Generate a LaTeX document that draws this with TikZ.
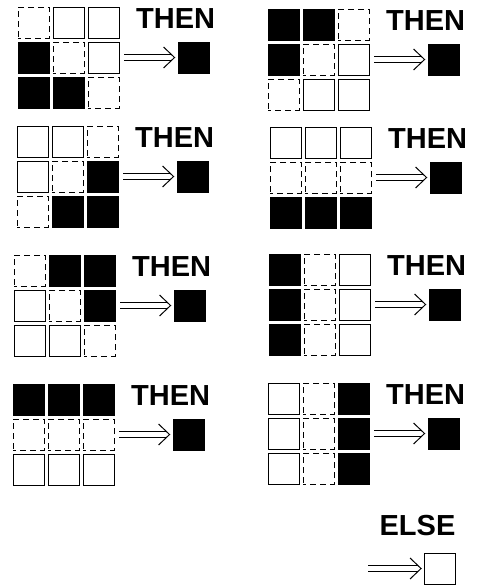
\documentclass[tikz,border=0pt]{standalone}
\usepackage{fontspec}
\setsansfont{Liberation Sans}
\usetikzlibrary{arrows.meta,calc}

\begin{document}
\begin{tikzpicture}[x=1pt, y=-1pt,
  cell/.style={rectangle, minimum size=31pt, inner sep=0pt, line width=0.9pt},
  cb/.style={fill=black, draw=black},
  cw/.style={draw=black},
  cd/.style={draw=black, dash pattern=on 6pt off 4pt, dash phase=3pt},
  word/.style={font=\sffamily\bfseries\fontsize{29}{29}\selectfont, inner sep=0pt, anchor=base west},
  shaft/.style={double, double distance=4.5pt, line width=0.9pt, shorten <=5pt, shorten >=6pt},
  barb/.style={draw=black, line width=1pt, line join=miter}]
  \useasboundingbox (0,0) rectangle (477,587);

  % --- the eight rules: 3x3 window, THEN, result ---
  \foreach \k/\gx/\gy/\pat in {
      1/18/7/{cd,cw,cw,cb,cd,cw,cb,cb,cd},
      2/268/9/{cb,cb,cd,cb,cd,cw,cd,cw,cw},
      3/17/126/{cw,cw,cd,cw,cd,cb,cd,cb,cb},
      4/270/127/{cw,cw,cw,cd,cd,cd,cb,cb,cb},
      5/14/255/{cd,cb,cb,cw,cd,cb,cw,cw,cd},
      6/269/254/{cb,cd,cw,cb,cd,cw,cb,cd,cw},
      7/13/384/{cb,cb,cb,cd,cd,cd,cw,cw,cw},
      8/268/383/{cw,cd,cb,cw,cd,cb,cw,cd,cb}} {
    \foreach \s [count=\i from 0] in \pat {
      \pgfmathtruncatemacro\row{\i/3}
      \pgfmathtruncatemacro\col{mod(\i,3)}
      \node[cell, \s] (p\k-\i) at (\gx+15.5+35*\col, \gy+15.5+35*\row) {};
    }
    \node[word] (then\k) at (\gx+118, \gy+21) {THEN};
    \node[cell, cb] (res\k) at (\gx+175.5, \gy+50.5) {};
    \draw[shaft] (p\k-5) -- (res\k);
    \draw[barb] ($(res\k.west)+(-14,10.5)$) -- ($(res\k.west)+(-3,0)$) -- ($(res\k.west)+(-14,-10.5)$);
  }

  % --- default rule ---
  \node[word, anchor=base] (else) at (417.5, 535) {ELSE};
  \node[cell, cw] (def) at (440, 568.5) {};
  \coordinate (from) at (368, 568.5);
  \draw[shaft, shorten <=0pt] (from) -- (def);
  \draw[barb] ($(def.west)+(-14,10.5)$) -- ($(def.west)+(-3,0)$) -- ($(def.west)+(-14,-10.5)$);
\end{tikzpicture}
\end{document}
